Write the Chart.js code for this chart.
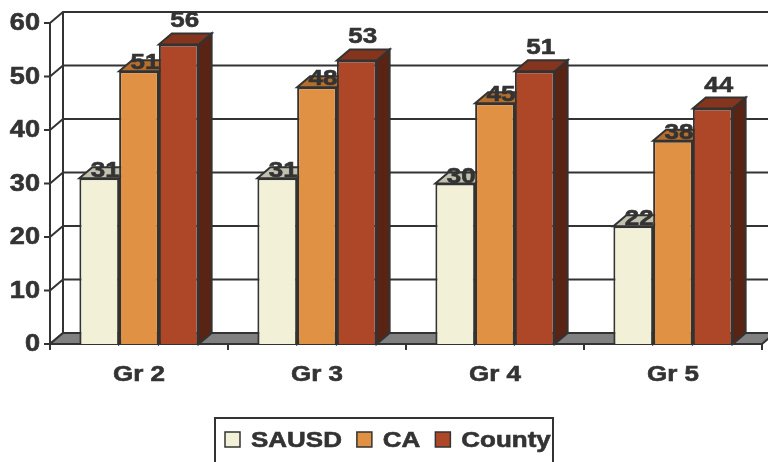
<!DOCTYPE html>
<html><head><meta charset="utf-8">
<script src="https://cdn.jsdelivr.net/npm/chart.js@4"></script>
<style>html,body{margin:0;padding:0;background:#fff;overflow:hidden}canvas{display:block}</style>
</head><body>
<canvas id="c" width="768" height="462"></canvas>
<script>
const categories = ['Gr 2', 'Gr 3', 'Gr 4', 'Gr 5'];
const seriesNames = ['SAUSD', 'CA', 'County'];
const sausd = [31, 31, 30, 22];
const ca = [51, 48, 45, 38];
const county = [56, 53, 51, 44];
const yTicks = [0, 10, 20, 30, 40, 50, 60];

const FONT = '"Liberation Sans", Arial, sans-serif';
const INK = '#333333';
const SX = 1.18;            // horizontal text stretch seen in the reference
const DX = 13, DY = -11;    // 3D depth offset
const frontC = ['#F3F0D8', '#E09144', '#AE4728'];
const topC = ['#C2C0AE', '#B46E2E', '#85351D'];
const sideC = ['#A8A694', '#975820', '#5A2414'];
const labelLift = [1, 2, 17];

function stext(ctx, txt, x, y, align) {
  ctx.save();
  ctx.translate(x, y);
  ctx.scale(SX, 1);
  ctx.textAlign = align;
  ctx.fillText(txt, 0, 0);
  ctx.lineWidth = 0.6;
  ctx.strokeStyle = ctx.fillStyle;
  ctx.strokeText(txt, 0, 0);
  ctx.restore();
}

const threeD = {
  id: 'threeD',
  beforeDatasetsDraw(chart) {
    const ctx = chart.ctx, a = chart.chartArea, ys = chart.scales.y, xs = chart.scales.x;
    const L = a.left, R = a.right, B = a.bottom, T = a.top;
    ctx.save();
    ctx.lineWidth = 2;
    ctx.strokeStyle = INK;
    ctx.lineJoin = 'miter';
    yTicks.forEach(v => {
      const yf = ys.getPixelForValue(v);
      ctx.beginPath();
      ctx.moveTo(L - 6, yf);
      ctx.lineTo(L, yf);
      ctx.lineTo(L + DX, yf + DY);
      ctx.lineTo(chart.width + 5, yf + DY);
      ctx.stroke();
    });
    ctx.beginPath();
    ctx.moveTo(L + DX, T + DY);
    ctx.lineTo(L + DX, B + DY);
    ctx.stroke();
    ctx.beginPath();
    ctx.moveTo(L, B);
    ctx.lineTo(R, B);
    ctx.lineTo(R + DX, B + DY);
    ctx.lineTo(L + DX, B + DY);
    ctx.closePath();
    ctx.fillStyle = '#808080';
    ctx.fill();
    ctx.stroke();
    ctx.beginPath();
    ctx.moveTo(L, T);
    ctx.lineTo(L, B + 6);
    ctx.stroke();
    const n = categories.length;
    for (let i = 0; i <= n; i++) {
      const x = L + i * (R - L) / n;
      ctx.beginPath();
      ctx.moveTo(x, B);
      ctx.lineTo(x, B + 6);
      ctx.stroke();
    }
    // axis tick labels (positions from the chart's own scales)
    ctx.fillStyle = INK;
    ctx.textBaseline = 'middle';
    ctx.font = 'bold 23px ' + FONT;
    yTicks.forEach(v => {
      stext(ctx, String(v), L - 10, ys.getPixelForValue(v) + 1, 'right');
    });
    ctx.textBaseline = 'alphabetic';
    ctx.font = 'bold 22px ' + FONT;
    categories.forEach((c, i) => {
      stext(ctx, c, xs.getPixelForValue(i), B + 37, 'center');
    });
    // bar side and top faces
    chart.data.datasets.forEach((ds, i) => {
      const meta = chart.getDatasetMeta(i);
      meta.data.forEach(el => {
        const l = el.x - el.width / 2, r = el.x + el.width / 2, yt = el.y, b = el.base;
        ctx.strokeStyle = INK;
        ctx.lineWidth = 2;
        ctx.beginPath();
        ctx.moveTo(r, yt);
        ctx.lineTo(r + DX, yt + DY);
        ctx.lineTo(r + DX, b + DY);
        ctx.lineTo(r, b);
        ctx.closePath();
        ctx.fillStyle = sideC[i];
        ctx.fill();
        ctx.stroke();
        ctx.beginPath();
        ctx.moveTo(l, yt);
        ctx.lineTo(r, yt);
        ctx.lineTo(r + DX, yt + DY);
        ctx.lineTo(l + DX, yt + DY);
        ctx.closePath();
        ctx.fillStyle = topC[i];
        ctx.fill();
        ctx.stroke();
      });
    });
    // value labels
    ctx.font = 'bold 22px ' + FONT;
    ctx.fillStyle = INK;
    ctx.textBaseline = 'alphabetic';
    chart.data.datasets.forEach((ds, i) => {
      const meta = chart.getDatasetMeta(i);
      meta.data.forEach((el, j) => {
        stext(ctx, String(ds.data[j]), el.x + 6, el.y - labelLift[i], 'center');
      });
    });
    ctx.restore();
  },
  afterDraw(chart) {
    const ctx = chart.ctx;
    ctx.save();
    ctx.lineWidth = 2;
    ctx.strokeStyle = INK;
    ctx.strokeRect(215, 418, 338, 60);
    ctx.font = 'bold 22px ' + FONT;
    ctx.textBaseline = 'alphabetic';
    let x = 225;
    const cy = 440;
    chart.data.datasets.forEach((ds, i) => {
      ctx.fillStyle = frontC[i];
      ctx.fillRect(x, cy - 8, 15, 15);
      ctx.lineWidth = 1.5;
      ctx.strokeStyle = INK;
      ctx.strokeRect(x, cy - 8, 15, 15);
      x += 15 + 11;
      ctx.fillStyle = INK;
      stext(ctx, ds.label, x, cy + 7, 'left');
      x += ctx.measureText(ds.label).width * SX + 15;
    });
    ctx.restore();
  }
};

const seriesData = [sausd, ca, county];
new Chart(document.getElementById('c'), {
  type: 'bar',
  data: {
    labels: categories,
    datasets: seriesNames.map((name, i) => ({
      label: name,
      data: seriesData[i],
      backgroundColor: frontC[i],
      borderColor: INK,
      borderWidth: 2,
      categoryPercentage: 0.67,
      barPercentage: 1.0
    }))
  },
  options: {
    responsive: false,
    animation: false,
    devicePixelRatio: 1,
    layout: { padding: { left: 0, right: 6, top: 23, bottom: 0 } },
    plugins: { legend: { display: false }, tooltip: { enabled: false } },
    scales: {
      y: {
        min: 0, max: 60,
        ticks: { stepSize: 10, display: false },
        grid: { display: false, drawTicks: false, tickLength: 0 },
        border: { display: false },
        afterFit(s) { s.width = 50; }
      },
      x: {
        ticks: { display: false },
        grid: { display: false, drawTicks: false, tickLength: 0 },
        border: { display: false },
        afterFit(s) { s.height = 118; }
      }
    }
  },
  plugins: [threeD]
});
</script>
</body></html>
